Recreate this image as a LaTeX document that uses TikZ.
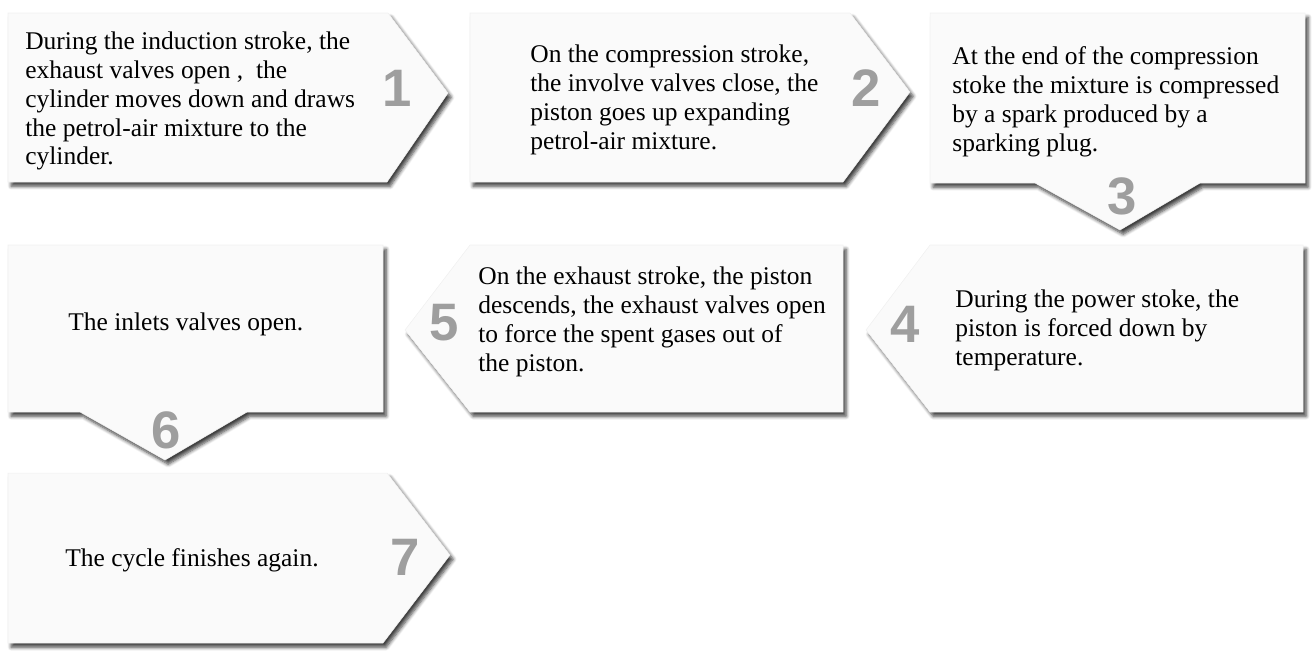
\documentclass[tikz,border=0pt]{standalone}
\usepackage{fontspec}
\setmainfont{Liberation Serif}
\newfontfamily\digitfont{Liberation Sans}
\usetikzlibrary{shadows.blur}

\begin{document}
\begin{tikzpicture}[x=0.02cm, y=-0.02cm,
  panel/.style={fill=black!2, draw=black!6, line width=0.3pt,
    blur shadow={shadow xshift=1.8pt, shadow yshift=-2.4pt, shadow blur radius=2pt,
      shadow blur steps=6, shadow opacity=75}},
  note/.style={anchor=north west, align=left, inner sep=0pt,
    font=\fontsize{14.5}{16.5}\selectfont},
  num/.style={text=black!38, inner sep=0pt,
    font=\digitfont\bfseries\fontsize{30}{30}\selectfont}]
\useasboundingbox (0,0) rectangle (1314,654);
% first row
\path[panel] (8,13) -- (388,13) -- (448,93) -- (387,182) -- (8,182) -- cycle;
\path[panel] (470,13) -- (850,13) -- (910,92) -- (843,182) -- (470,182) -- cycle;
\path[panel] (930,13) -- (1305,13) -- (1305,183) -- (1200,183) -- (1120,230) -- (1035,183) -- (930,183) -- cycle;
% second row
\path[panel] (8,245) -- (383,245) -- (383,412) -- (247,412) -- (165,460) -- (80,412) -- (8,412) -- cycle;
\path[panel] (470,245) -- (843,245) -- (843,412) -- (470,412) -- (405,330) -- cycle;
\path[panel] (930,245) -- (1303,245) -- (1303,412) -- (930,412) -- (866,330) -- cycle;
% third row
\path[panel] (8,473) -- (387,473) -- (450,555) -- (383,643) -- (8,643) -- cycle;

\node[note] (t1) at (25,31) {During the induction stroke, the\\exhaust valves open ,\ \ the\\cylinder moves down and draws\\the petrol-air mixture to the\\cylinder.};
\node[note] (t2) at (530,44) {On the compression stroke,\\the involve valves close, the\\piston goes up expanding\\petrol-air mixture.};
\node[note] (t3) at (952,46) {At the end of the compression\\stoke the mixture is compressed\\by a spark produced by a\\sparking plug.};
\node[note] (t4) at (955,289) {During the power stoke, the\\piston is forced down by\\temperature.};
\node[note] (t5) at (478,266) {On the exhaust stroke, the piston\\descends, the exhaust valves open\\to force the spent gases out of\\the piston.};
\node[note] (t6) at (68,312) {The inlets valves open.};
\node[note] (t7) at (65,548) {The cycle finishes again.};

\node[num] (n1) at (397,88) {1};
\node[num] (n2) at (866,88) {2};
\node[num] (n3) at (1122,196) {3};
\node[num] (n4) at (905,324) {4};
\node[num] (n5) at (444,323) {5};
\node[num] (n6) at (166,430) {6};
\node[num] (n7) at (405,557) {7};
\end{tikzpicture}
\end{document}
